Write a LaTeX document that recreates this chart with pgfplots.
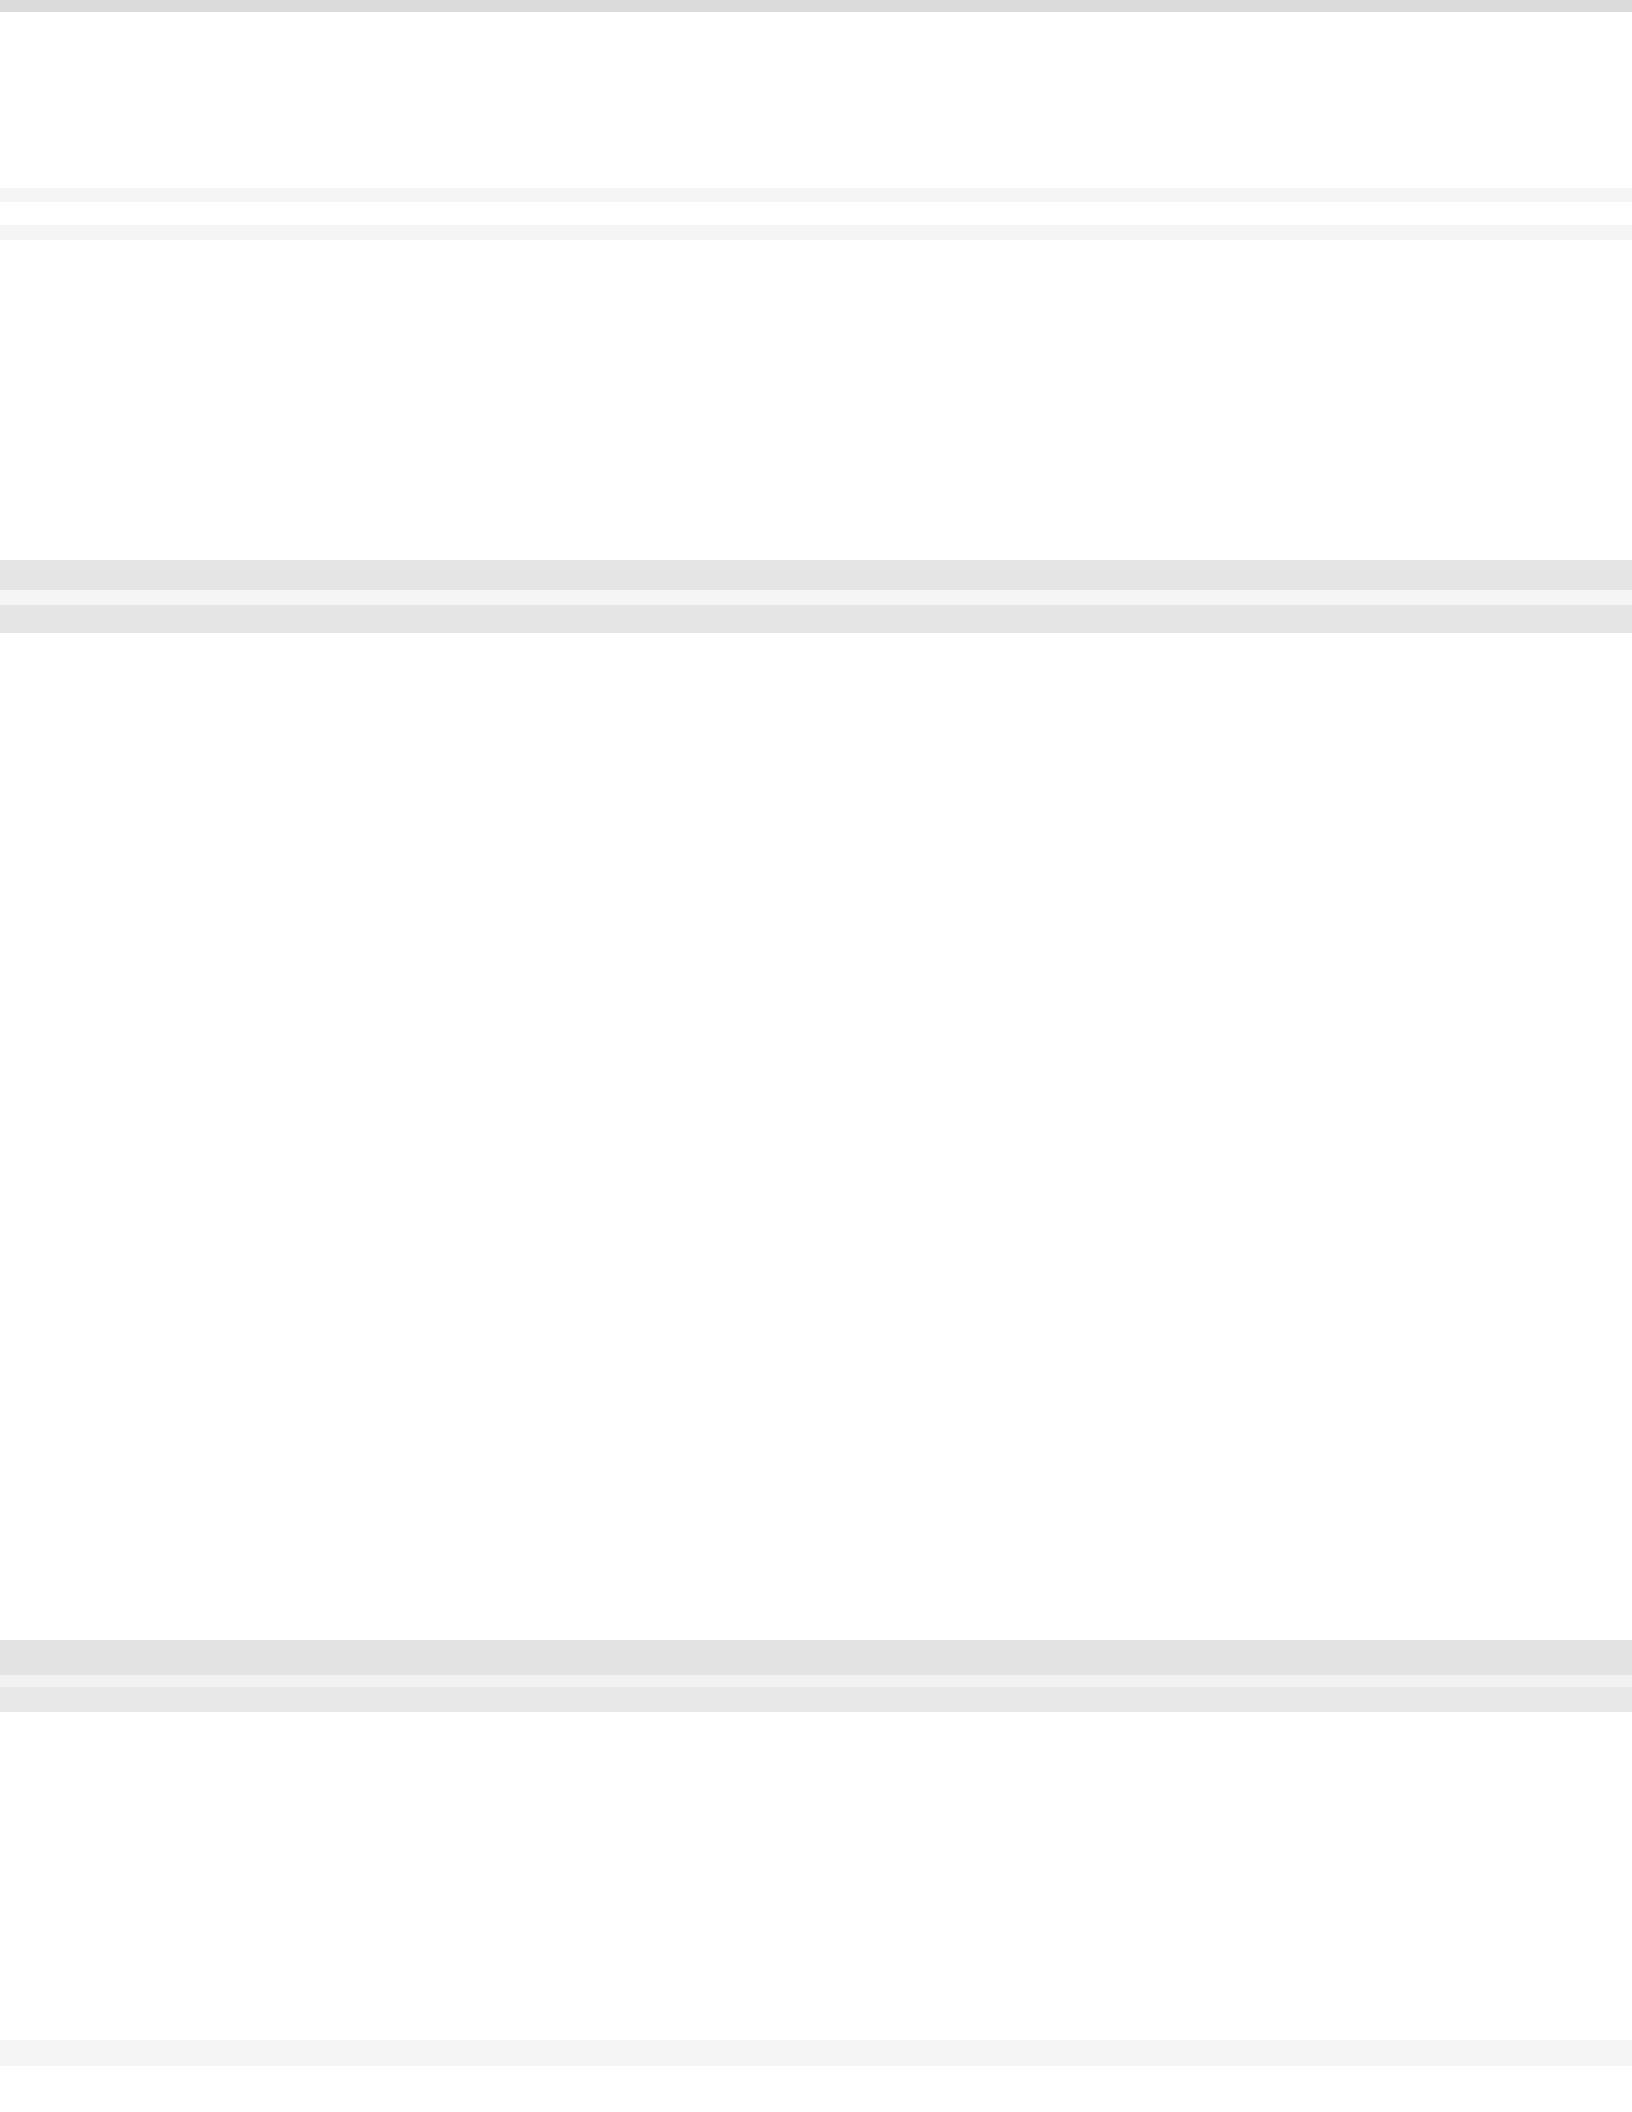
\documentclass[border=0pt]{standalone}
\usepackage{pgfplots}
\pgfplotsset{compat=1.18}
\begin{document}
\begin{tikzpicture}
\begin{axis}[
  scale only axis,
  width=8.5in, height=11in,
  xmin=0, xmax=1632, ymin=0, ymax=2112,
  y dir=reverse,
  axis line style={draw=none},
  ticks=none,
  clip=true,
]
% empty scanned page: only faint scan-noise bands
\fill[black!14] (axis cs:0,0) rectangle (axis cs:1632,12);
\fill[black!4] (axis cs:0,188) rectangle (axis cs:1632,202);
\fill[black!4] (axis cs:0,225) rectangle (axis cs:1632,240);
\fill[black!10] (axis cs:0,560) rectangle (axis cs:1632,590);
\fill[black!4] (axis cs:0,590) rectangle (axis cs:1632,605);
\fill[black!10] (axis cs:0,605) rectangle (axis cs:1632,633);
\fill[black!11] (axis cs:0,1640) rectangle (axis cs:1632,1675);
\fill[black!5] (axis cs:0,1675) rectangle (axis cs:1632,1687);
\fill[black!9] (axis cs:0,1687) rectangle (axis cs:1632,1712);
\fill[black!4] (axis cs:0,2040) rectangle (axis cs:1632,2066);
\end{axis}
\end{tikzpicture}
\end{document}
